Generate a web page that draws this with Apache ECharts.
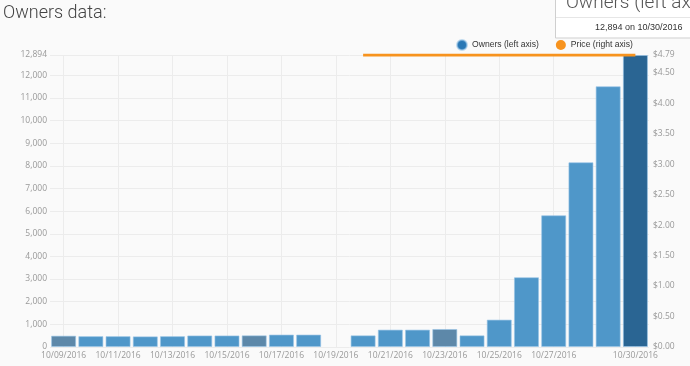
<!DOCTYPE html>
<html>
<head>
<meta charset="utf-8">
<script src="https://cdn.jsdelivr.net/npm/echarts@6/dist/echarts.min.js"></script>
<style>
html,body{margin:0;padding:0;background:#fafafa;}
#c{width:690px;height:366px;}
</style>
</head>
<body>
<div id="c"></div>
<script>
var categories = ['10/09/2016','10/10/2016','10/11/2016','10/12/2016','10/13/2016','10/14/2016','10/15/2016','10/16/2016','10/17/2016','10/18/2016','10/19/2016','10/20/2016','10/21/2016','10/22/2016','10/23/2016','10/24/2016','10/25/2016','10/26/2016','10/27/2016','10/28/2016','10/29/2016','10/30/2016'];
var owners = [500, 480, 480, 470, 480, 510, 510, 515, 550, 550, null, 515, 768, 768, 795, 515, 1210, 3080, 5817, 8158, 11514, 12894];
var price = [null, null, null, null, null, null, null, null, null, null, null, 4.79, 4.79, 4.79, 4.79, 4.79, 4.79, 4.79, 4.79, 4.79, 4.79, 4.79];
var ownersMax = 12894;
var priceMax = 4.79;

var chart = echarts.init(document.getElementById('c'), null, {renderer:'canvas'});
var font = 'Open Sans';
function showLabel(i){ return (i % 2 === 0 && i <= 18) || i === categories.length - 1; }
function isSunday(s){ var p = s.split('/'); return new Date(+p[2], +p[0]-1, +p[1]).getDay() === 0; }

chart.setOption({
  backgroundColor: '#fafafa',
  animation: false,
  title: {
    text: 'Owners data:', left: 3, top: 4, padding: 0,
    textStyle: {fontFamily: 'Roboto', fontWeight: 300, fontSize: 18, color: '#444'}
  },
  legend: {
    left: 456, top: 39, padding: 0, icon: 'circle', itemWidth: 10, itemHeight: 10, itemGap: 17,
    textStyle: {fontFamily: 'Liberation Sans', fontSize: 8.6, color: '#333'},
    data: [
      {name: 'Owners (left axis)', itemStyle: {color: '#2a78b5'}},
      {name: 'Price (right axis)', itemStyle: {color: '#f7931e'}}
    ]
  },
  grid: {left: 50, right: 41, top: 55, bottom: 19},
  xAxis: {
    type: 'category', data: categories,
    axisTick: {show: false},
    axisLine: {show: false},
    axisLabel: {interval: function(i){return showLabel(i);}, fontFamily: font, fontSize: 8.5, color: '#999', margin: 4},
    splitLine: {show: true, interval: function(i){return showLabel(i);}, alignWithLabel: true, lineStyle: {color: '#ececec'}}
  },
  yAxis: [{
    type: 'value', min: 0, max: ownersMax, interval: 1000,
    axisLine: {show: false}, axisTick: {show: false},
    axisLabel: {fontFamily: font, fontSize: 8.5, color: '#999', margin: 3,
      formatter: function(v){return v.toLocaleString('en-US');}},
    splitLine: {lineStyle: {color: '#ececec'}}
  }, {
    type: 'value', min: 0, max: priceMax, interval: 0.5, position: 'right',
    axisLine: {show: false}, axisTick: {show: false},
    axisLabel: {fontFamily: font, fontSize: 8.5, color: '#999', margin: 4,
      formatter: function(v){return '$' + v.toFixed(2);}},
    splitLine: {show: false}
  }],
  series: [{
    name: 'Owners (left axis)', type: 'bar', data: owners, yAxisIndex: 0,
    barCategoryGap: '8%',
    itemStyle: {
      color: function(p){
        if (p.dataIndex === categories.length - 1) return '#2a6593';
        if (isSunday(categories[p.dataIndex])) return '#5d88a9';
        return '#4f97c9';
      },
      borderColor: 'rgba(150,195,230,0.6)', borderWidth: 1
    }
  }, {
    name: 'Price (right axis)', type: 'line', data: price, yAxisIndex: 1,
    symbol: 'none', z: 10,
    lineStyle: {color: '#f7931e', width: 3},
    itemStyle: {color: '#f7931e'}
  }],
  graphic: [{
    type: 'rect', shape: {x: 555.5, y: -2, width: 140, height: 40},
    style: {fill: '#ffffff', stroke: '#cfcfcf', lineWidth: 1}, z: 100
  }, {
    type: 'line', shape: {x1: 556, y1: 17.5, x2: 690, y2: 17.5},
    style: {stroke: '#e6e6e6', lineWidth: 1}, z: 101
  }, {
    type: 'text', left: 566, top: -6, z: 102,
    style: {text: 'Owners (left axis)', font: '300 19px Roboto', fill: '#555'}
  }, {
    type: 'text', left: 595, top: 23, z: 102,
    style: {text: '12,894 on 10/30/2016', font: '9px "Liberation Sans"', fill: '#333'}
  }]
});
</script>
</body>
</html>
